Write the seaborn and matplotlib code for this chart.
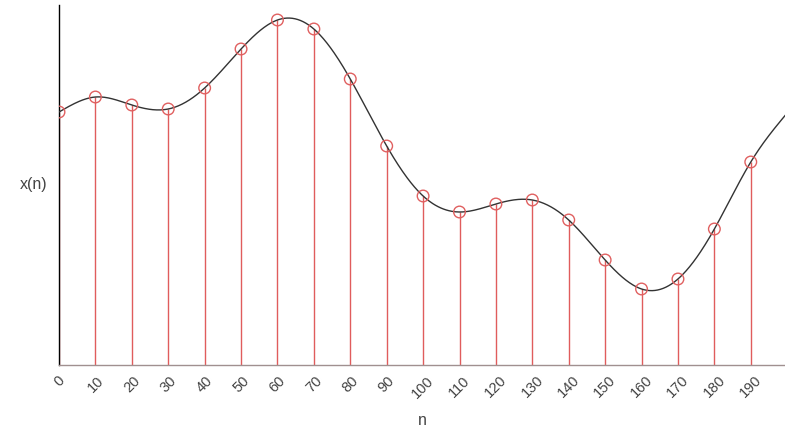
import numpy as np
import pandas as pd
import matplotlib
matplotlib.use("Agg")
import matplotlib.pyplot as plt
import seaborn as sns

# Sample indices and sampled values of the signal
n_samples = [0, 10, 20, 30, 40, 50, 60, 70, 80, 90,
             100, 110, 120, 130, 140, 150, 160, 170, 180, 190]
x_samples = [2.53, 2.68, 2.60, 2.56, 2.77, 3.16, 3.45, 3.36, 2.86, 2.19,
             1.69, 1.53, 1.61, 1.65, 1.45, 1.05, 0.76, 0.86, 1.36, 2.03]

# Continuous signal continues past the last sample
n_tail = [200]
x_tail = [2.52]

tick_labels = [str(v) for v in n_samples]


def natural_spline(xk, yk, xs):
    """Evaluate a natural cubic spline through the knots (xk, yk) at xs."""
    xk = np.asarray(xk, float)
    yk = np.asarray(yk, float)
    n = len(xk)
    h = np.diff(xk)
    A = np.zeros((n, n))
    b = np.zeros(n)
    A[0, 0] = A[-1, -1] = 1.0
    for i in range(1, n - 1):
        A[i, i - 1] = h[i - 1]
        A[i, i] = 2 * (h[i - 1] + h[i])
        A[i, i + 1] = h[i]
        b[i] = 3 * ((yk[i + 1] - yk[i]) / h[i] - (yk[i] - yk[i - 1]) / h[i - 1])
    c = np.linalg.solve(A, b)
    bcoef = (yk[1:] - yk[:-1]) / h - h * (2 * c[:-1] + c[1:]) / 3
    dcoef = (c[1:] - c[:-1]) / (3 * h)
    idx = np.clip(np.searchsorted(xk, xs) - 1, 0, n - 2)
    dx = xs - xk[idx]
    return yk[idx] + bcoef[idx] * dx + c[idx] * dx ** 2 + dcoef[idx] * dx ** 3


sns.set_style("white")
plt.rcParams["font.family"] = ["Liberation Sans", "DejaVu Sans"]

fig = plt.figure(figsize=(7.85, 4.30), dpi=100)
ax = fig.add_axes([59 / 785, 65 / 430, 726 / 785, 360 / 430])

knots_n = n_samples + n_tail
knots_x = x_samples + x_tail
dense_n = np.linspace(0, 200, 800)
curve = pd.DataFrame({"n": dense_n, "x": natural_spline(knots_n, knots_x, dense_n)})
samples = pd.DataFrame({"n": n_samples, "x": x_samples})

stem_color = "#e05c5c"
ax.vlines(samples["n"], 0, samples["x"], color=stem_color, linewidth=1.0, zorder=2)
sns.lineplot(data=curve, x="n", y="x", color="#333333", linewidth=1.0,
             sort=False, ax=ax, zorder=3)
sns.scatterplot(data=samples, x="n", y="x", s=70, facecolors="none",
                edgecolor="#e06060", linewidth=1.0, ax=ax, zorder=4)

ax.set_xlim(0, 199.4)
ax.set_ylim(0, 3.6)

ax.set_xticks(n_samples)
ax.set_xticklabels(tick_labels, rotation=45, ha="center", fontsize=10.5,
                   color="#444444")
ax.tick_params(axis="x", length=0, pad=6)
ax.set_yticks([])

ax.set_xlabel("n", fontsize=11.5, color="#444444", labelpad=9)
ax.set_ylabel("x(n)", fontsize=11.5, color="#444444", rotation=0,
              ha="right", va="center", labelpad=8)

for side in ("top", "right"):
    ax.spines[side].set_visible(False)
ax.spines["left"].set_color("black")
ax.spines["left"].set_linewidth(1.0)
ax.spines["bottom"].set_color("#a09090")
ax.spines["bottom"].set_linewidth(1.0)

fig.savefig("out.png", dpi=100)
